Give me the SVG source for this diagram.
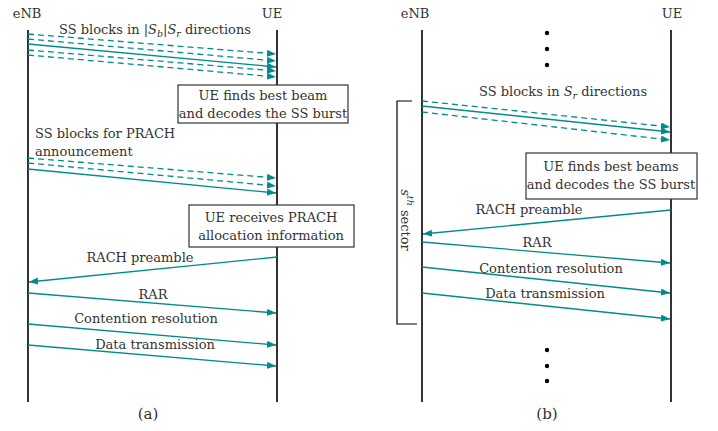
<svg xmlns="http://www.w3.org/2000/svg" width="718" height="431" viewBox="0 0 718 431">
<style>
text{font-family:'DejaVu Serif','Liberation Serif',serif;font-size:13px;fill:#333}
.cap{font-size:15px}
.life{stroke:#333;stroke-width:2;fill:none}
.msg{stroke:#008c8c;stroke-width:1.3;fill:none;marker-end:url(#ah)}
.dash{stroke-dasharray:6,4}
.box{fill:#fff;stroke:#333;stroke-width:1.2}
.it{font-style:italic}
.sub{font-style:italic;font-size:9.5px}
.dot{fill:#000}
</style>
<defs>
<marker id="ah" markerUnits="userSpaceOnUse" markerWidth="10" markerHeight="8" refX="9" refY="3.5" orient="auto">
<path d="M0,0 L9,3.5 L0,7 z" fill="#008c8c"/>
</marker>
</defs>

<!-- Panel (a) -->
<g id="a-enb"><line class="life" x1="28" y1="30" x2="28" y2="402"/><text x="27" y="18" text-anchor="middle">eNB</text></g>
<g id="a-ue"><line class="life" x1="277" y1="30" x2="277" y2="402"/><text x="272" y="18" text-anchor="middle">UE</text></g>

<g id="a-connectors">
<line class="msg dash" x1="28" y1="34" x2="276" y2="54"/>
<line class="msg dash" x1="28" y1="39" x2="276" y2="61"/>
<line class="msg" x1="28" y1="44" x2="276" y2="67"/>
<line class="msg dash" x1="28" y1="50" x2="276" y2="71"/>
<line class="msg dash" x1="28" y1="55" x2="276" y2="77"/>
<line class="msg dash" x1="28" y1="158" x2="276" y2="178"/>
<line class="msg dash" x1="28" y1="163" x2="276" y2="186"/>
<line class="msg" x1="28" y1="169" x2="276" y2="193"/>
<line class="msg" x1="277" y1="257" x2="29" y2="282"/>
<line class="msg" x1="28" y1="293" x2="276" y2="313"/>
<line class="msg" x1="28" y1="324" x2="276" y2="345"/>
<line class="msg" x1="28" y1="345" x2="276" y2="366"/>
</g>

<g id="a-labels">
<text x="59" y="34">SS blocks in |<tspan class="it">S</tspan><tspan class="sub" dy="3">b</tspan><tspan dy="-3">|</tspan><tspan class="it">S</tspan><tspan class="sub" dy="3">r</tspan><tspan dy="-3"> directions</tspan></text>
<text x="35" y="138">SS blocks for PRACH</text>
<text x="35" y="156">announcement</text>
<text x="140" y="262" text-anchor="middle">RACH preamble</text>
<text x="153" y="299" text-anchor="middle">RAR</text>
<text x="146" y="323" text-anchor="middle">Contention resolution</text>
<text x="155" y="349" text-anchor="middle">Data transmission</text>
<text class="cap" x="148" y="419" text-anchor="middle">(a)</text>
</g>

<g id="a-box1"><rect class="box" x="178" y="85" width="170" height="38"/><text x="263" y="100" text-anchor="middle">UE finds best beam</text><text x="263" y="118" text-anchor="middle">and decodes the SS burst</text></g>
<g id="a-box2"><rect class="box" x="189" y="205" width="165" height="42"/><text x="271" y="222" text-anchor="middle">UE receives PRACH</text><text x="271" y="240" text-anchor="middle">allocation information</text></g>

<!-- Panel (b) -->
<g id="b-enb"><line class="life" x1="422" y1="30" x2="422" y2="402"/><text x="415" y="18" text-anchor="middle">eNB</text></g>
<g id="b-ue"><line class="life" x1="671" y1="30" x2="671" y2="402"/><text x="672" y="18" text-anchor="middle">UE</text></g>

<g id="b-dots">
<circle class="dot" cx="547" cy="33" r="2.2"/><circle class="dot" cx="547" cy="49" r="2.2"/><circle class="dot" cx="547" cy="65" r="2.2"/>
<circle class="dot" cx="547" cy="350" r="2.2"/><circle class="dot" cx="547" cy="366" r="2.2"/><circle class="dot" cx="547" cy="381" r="2.2"/>
</g>

<g id="b-sector">
<path d="M412,101 H397 V324 H417" fill="none" stroke="#000" stroke-width="1.2"/>
<text transform="translate(401,220) rotate(90)" text-anchor="middle"><tspan class="it">s</tspan><tspan class="sub" dy="-6">th</tspan><tspan dy="6"> sector</tspan></text>
</g>

<g id="b-connectors">
<line class="msg dash" x1="422" y1="101" x2="670" y2="127"/>
<line class="msg" x1="422" y1="106" x2="670" y2="132"/>
<line class="msg dash" x1="422" y1="112" x2="670" y2="140"/>
<line class="msg" x1="671" y1="210" x2="423" y2="234"/>
<line class="msg" x1="422" y1="242" x2="670" y2="263"/>
<line class="msg" x1="422" y1="267" x2="670" y2="293"/>
<line class="msg" x1="422" y1="293" x2="670" y2="319"/>
</g>

<g id="b-labels">
<text x="479" y="96">SS blocks in <tspan class="it">S</tspan><tspan class="sub" dy="3">r</tspan><tspan dy="-3"> directions</tspan></text>
<text x="529" y="214" text-anchor="middle">RACH preamble</text>
<text x="537" y="247" text-anchor="middle">RAR</text>
<text x="551" y="273" text-anchor="middle">Contention resolution</text>
<text x="545" y="298" text-anchor="middle">Data transmission</text>
<text class="cap" x="547" y="419" text-anchor="middle">(b)</text>
</g>

<g id="b-box"><rect class="box" x="526" y="153" width="171" height="46"/><text x="611" y="171" text-anchor="middle">UE finds best beams</text><text x="611" y="189" text-anchor="middle">and decodes the SS burst</text></g>
</svg>
